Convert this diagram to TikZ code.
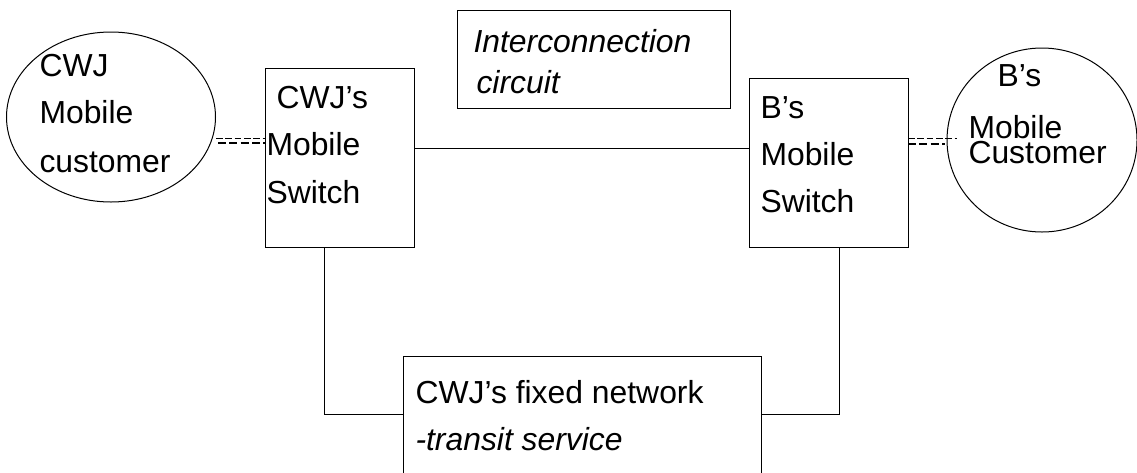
\documentclass[tikz,border=0pt]{standalone}
\usepackage{fontspec}
\setmainfont{Liberation Sans}
\usetikzlibrary{shapes.geometric, calc, positioning}

\tikzset{
  unit/.style={draw, line width=0.75pt, inner sep=0pt, outer sep=0pt},
  cust/.style={unit, ellipse},
  txt/.style={anchor=base west, inner sep=0pt},
  thindash/.style={line width=0.5pt, dash pattern=on 5pt off 2pt},
  thickdash/.style={line width=1pt, dash pattern=on 6pt off 2.5pt}
}

\begin{document}
\begin{tikzpicture}[x=0.75pt, y=-0.75pt, line width=0.75pt,
  font=\fontsize{23.9}{28}\selectfont]
\useasboundingbox (0,0) rectangle (1137,472);

% customers
\node[cust, minimum width=156.75pt, minimum height=127.5pt] (lcust) at (111,117) {};
\node[cust, minimum width=142.5pt, minimum height=138pt] (rcust) at (1042,140) {};

% switches and circuits
\node[unit, anchor=north west, minimum width=111.75pt, minimum height=134.25pt] (lsw) at (265,68) {};
\node[unit, anchor=north west, minimum width=119.25pt, minimum height=126.75pt] (rsw) at (749,78) {};
\node[unit, anchor=north west, minimum width=204.75pt, minimum height=73.5pt] (inter) at (457,10) {};
\node[unit, anchor=north west, minimum width=268.5pt, minimum height=93pt] (fixed) at (403,356) {};

% interconnection link
\coordinate (linky) at (0,148);
\draw (lsw.east |- linky) -- (rsw.west |- linky);

% transit via fixed network
\draw ($(lsw.south west)+(59,0)$) |- ($(fixed.north west)+(0,58)$);
\draw ($(rsw.south west)+(90,0)$) |- ($(fixed.north east)+(0,58)$);

% radio links
\coordinate (lup) at (216,138);
\coordinate (llo) at (218,143);
\coordinate (rup) at (957,138);
\coordinate (rlo) at (945,144);
\draw[thindash] (lup) -- (lsw.west |- lup);
\draw[thickdash] (llo) -- (lsw.west |- llo);
\draw[thindash] (rsw.east |- rup) -- (rup);
\draw[thickdash] (rsw.east |- rlo) -- (rlo);

% labels
\node[txt] (lc1) at (39,76) {CWJ};
\node[txt] (lc2) at (39,123) {Mobile};
\node[txt] (lc3) at (39,172) {customer};

\node[txt] (ls1) at (276,108) {CWJ’s};
\node[txt] (ls2) at (266,155) {Mobile};
\node[txt] (ls3) at (266,203) {Switch};

\node[txt] (rs1) at (760,118) {B’s};
\node[txt] (rs2) at (760,165) {Mobile};
\node[txt] (rs3) at (760,212) {Switch};

\node[txt] (rc1) at (997,86) {B’s};
\node[txt, align=left, font=\fontsize{23.9}{18.75}\selectfont] (rc2) at (968,163) {Mobile\\Customer};

\node[txt] (ic1) at (473,52) {\itshape Interconnection};
\node[txt] (ic2) at (476,93) {\itshape circuit};

\node[txt] (fx1) at (415,403) {CWJ’s fixed network};
\node[txt] (fx2) at (415,450) {\itshape -transit service};
\end{tikzpicture}
\end{document}
